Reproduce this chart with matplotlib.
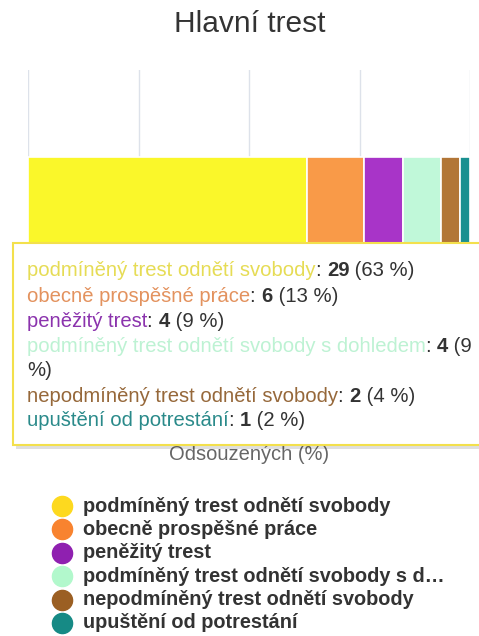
import numpy as np
import matplotlib
matplotlib.use("Agg")
import matplotlib.pyplot as plt
from matplotlib.patches import Rectangle
from matplotlib.lines import Line2D

plt.rcParams["font.family"] = ["Liberation Sans", "DejaVu Sans"]

title = "Hlavní trest"
x_label = "Odsouzených (%)"
categories = ["podmíněný trest odnětí svobody",
              "obecně prospěšné práce",
              "peněžitý trest",
              "podmíněný trest odnětí svobody s dohledem",
              "nepodmíněný trest odnětí svobody",
              "upuštění od potrestání"]
counts = [29, 6, 4, 4, 2, 1]
bar_colors = ["#faf72a", "#f99a48", "#a834c8", "#c0f8d9", "#b27637", "#1a9090"]
legend_colors = ["#fdd91f", "#f8832f", "#8f20b0", "#b2f8cc", "#9b5f23", "#168a85"]
text_colors = ["#e6dc55", "#e3925e", "#8b33ad", "#bdf2d3", "#96683a", "#2a8a8a"]
grid_ticks = [0, 25, 50, 75, 100]

W, H = 479, 636
fig = plt.figure(figsize=(W / 100, H / 100), dpi=100)


def fx(px):
    return px / W


def fy(py):
    return 1 - py / H


total = sum(counts)
shares = np.array(counts) / total * 100
lefts = np.concatenate([[0], np.cumsum(shares)[:-1]])

# plot area
ax = fig.add_axes([fx(28), fy(243), fx(470) - fx(28), fy(70) - fy(243)])
ax.barh(0, shares, left=lefts, height=1.0, color=bar_colors,
        edgecolor="white", linewidth=1.2, zorder=2)
ax.set_xlim(0, 100)
ax.set_ylim(-0.5, 1.51)
ax.set_xticks(grid_ticks)
ax.set_yticks([])
ax.tick_params(axis="x", length=0, labelbottom=False)
ax.grid(axis="x", color="#dde2ea", linewidth=1, zorder=0)
for s in ax.spines.values():
    s.set_visible(False)

fig.text(fx(250), fy(24), title, ha="center", va="center", fontsize=21.5, color="#333333")
fig.text(fx(249), fy(455), x_label, ha="center", va="center", fontsize=14.5, color="#666666")

# tooltip box
shadow = Rectangle((fx(16), fy(449)), fx(480) - fx(16), fy(246) - fy(449),
                   transform=fig.transFigure, facecolor="#00000020", edgecolor="none", zorder=9)
box = Rectangle((fx(13), fy(445)), fx(485) - fx(13), fy(243) - fy(445),
                transform=fig.transFigure, facecolor="white", edgecolor="#f3e04c",
                linewidth=1.5, zorder=10)
fig.add_artist(shadow)
fig.add_artist(box)

renderer = fig.canvas.get_renderer()


def rich_line(x, y, pieces, size=14.6):
    for txt, col, wt in pieces:
        t = fig.text(x, y, txt, color=col, fontweight=wt, fontsize=size,
                     ha="left", va="center", zorder=11)
        bb = t.get_window_extent(renderer=renderer)
        x += bb.width / W


lines = []
for name, c, s, col in zip(categories, counts, shares, text_colors):
    lines.append([(name, col, "normal"), (": ", "#333333", "normal"),
                  (str(c), "#333333", "bold"), (" (%d %%)" % round(s), "#333333", "normal")])
# the long entry wraps like in the source tooltip
long_line = lines[3]
lines[3] = long_line[:3] + [(" (%d" % round(shares[3]), "#333333", "normal")]
lines.insert(4, [("%)", "#333333", "normal")])

y0, step = 271, 25
for i, pieces in enumerate(lines):
    rich_line(fx(27), fy(y0 + i * step), pieces)

# legend
for i, (name, col) in enumerate(zip(categories, legend_colors)):
    lab = name if len(name) <= 34 else name[:34] + "…"
    yy = fy(506 + i * 23.4)
    fig.add_artist(Line2D([fx(62)], [yy], marker="o", linestyle="none", markersize=14.5,
                          markerfacecolor=col, markeredgecolor=col,
                          transform=fig.transFigure))
    fig.text(fx(83), yy, lab, ha="left", va="center", fontsize=14.3,
             fontweight="bold", color="#333333")

fig.savefig("out.png", dpi=100)
